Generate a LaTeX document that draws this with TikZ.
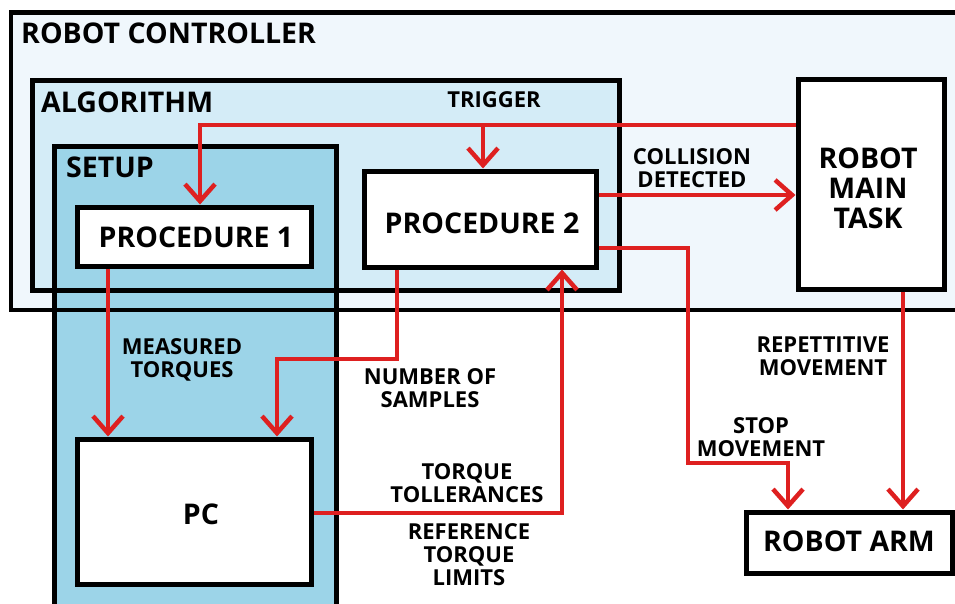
\documentclass[tikz,border=0pt]{standalone}
\usepackage{fontspec}
\setmainfont{Open Sans}
\usetikzlibrary{arrows.meta}
\definecolor{ctrlfill}{RGB}{240,247,252}
\definecolor{algofill}{RGB}{212,236,247}
\definecolor{setupfill}{RGB}{156,212,232}
\definecolor{arrred}{RGB}{222,32,32}
\tikzset{
  box/.style={draw=black, line width=5pt, fill=white},
  bigtxt/.style={font=\bfseries\fontsize{28.5}{30}\selectfont, align=center},
  grptxt/.style={font=\bfseries\fontsize{28.5}{30}\selectfont, anchor=base west, inner sep=0pt},
  lbl/.style={font=\bfseries\fontsize{22}{23}\selectfont, align=center, anchor=base, inner sep=0pt},
  arr/.style={draw=arrred, line width=4.5pt, -{Straight Barb[length=17pt,width=30pt,line width=4.5pt]}},
  ln/.style={draw=arrred, line width=4.5pt}
}
\begin{document}
\begin{tikzpicture}[x=1pt,y=-1pt]
\useasboundingbox (0,0) rectangle (955,603);
\begin{scope}
\clip (0,0) rectangle (955,603);
% group fills
\fill[ctrlfill] (11,12.5) rectangle (975,310);
\fill[algofill] (32,80) rectangle (619,290);
\fill[setupfill] (54,146) rectangle (336,630);
% group outlines
\draw[line width=4.5pt] (11,12.5) rectangle (975,310);
\draw[line width=5pt] (32,80) rectangle (619,290);
\draw[line width=5pt] (54,146) rectangle (336,630);
\end{scope}
% group titles
\node[grptxt] (tctrl) at (21,43) {ROBOT CONTROLLER};
\node[grptxt] (talgo) at (41,112) {ALGORITHM};
\node[grptxt] (tsetup) at (66,177) {SETUP};
% boxes
\node[box, minimum width=234pt, minimum height=59pt] (proc1) at (194,236.5) {};
\node[bigtxt] at (196,237.5) {PROCEDURE 1};
\node[box, minimum width=232pt, minimum height=96pt] (proc2) at (480,219) {};
\node[bigtxt] at (482,223) {PROCEDURE 2};
\node[box, minimum width=146pt, minimum height=210pt] (task) at (871,184) {};
\node[bigtxt] at (868,188) {ROBOT\\MAIN\\TASK};
\node[box, minimum width=234pt, minimum height=145pt] (pc) at (194,511.5) {};
\node[bigtxt] at (201,514) {PC};
\node[box, minimum width=206pt, minimum height=61pt] (arm) at (849,542.5) {};
\node[bigtxt] at (849,541) {ROBOT ARM};
% connectors
\coordinate (trigsplit) at (483,125);
\draw[arr] (task.west |- 0,125) -| (proc1.north -| 200,0);
\draw[arr] (trigsplit) -- (proc2.north -| trigsplit);
\draw[arr] (proc2.east |- 0,195) -- (task.west |- 0,195);
\draw[arr] (proc2.east |- 0,248) -| (688,463) -| (arm.north -| 788,0);
\draw[arr] (task.south -| 903,0) -- (arm.north -| 903,0);
\draw[arr] (proc1.south -| 108,0) -- (pc.north -| 108,0);
\draw[arr] (proc2.south -| 397,0) |- (277,359) -- (pc.north -| 277,0);
\draw[arr] (pc.east |- 0,513) -| (proc2.south -| 562,0);
% labels (anchor = baseline of the last line)
\node[lbl] (ltrig) at (494,107) {TRIGGER};
\node[lbl] (lcoll) at (692,187) {COLLISION\\DETECTED};
\node[lbl] (lmeas) at (182,377) {MEASURED\\TORQUES};
\node[lbl] (lnum) at (430,407) {NUMBER OF\\SAMPLES};
\node[lbl] (ltol) at (467,502) {TORQUE\\TOLLERANCES};
\node[lbl] (lref) at (469,585) {REFERENCE\\TORQUE\\LIMITS};
\node[lbl] (lrep) at (823,375) {REPETTITIVE\\MOVEMENT};
\node[lbl] (lstop) at (761,456) {STOP\\MOVEMENT};
\end{tikzpicture}
\end{document}
